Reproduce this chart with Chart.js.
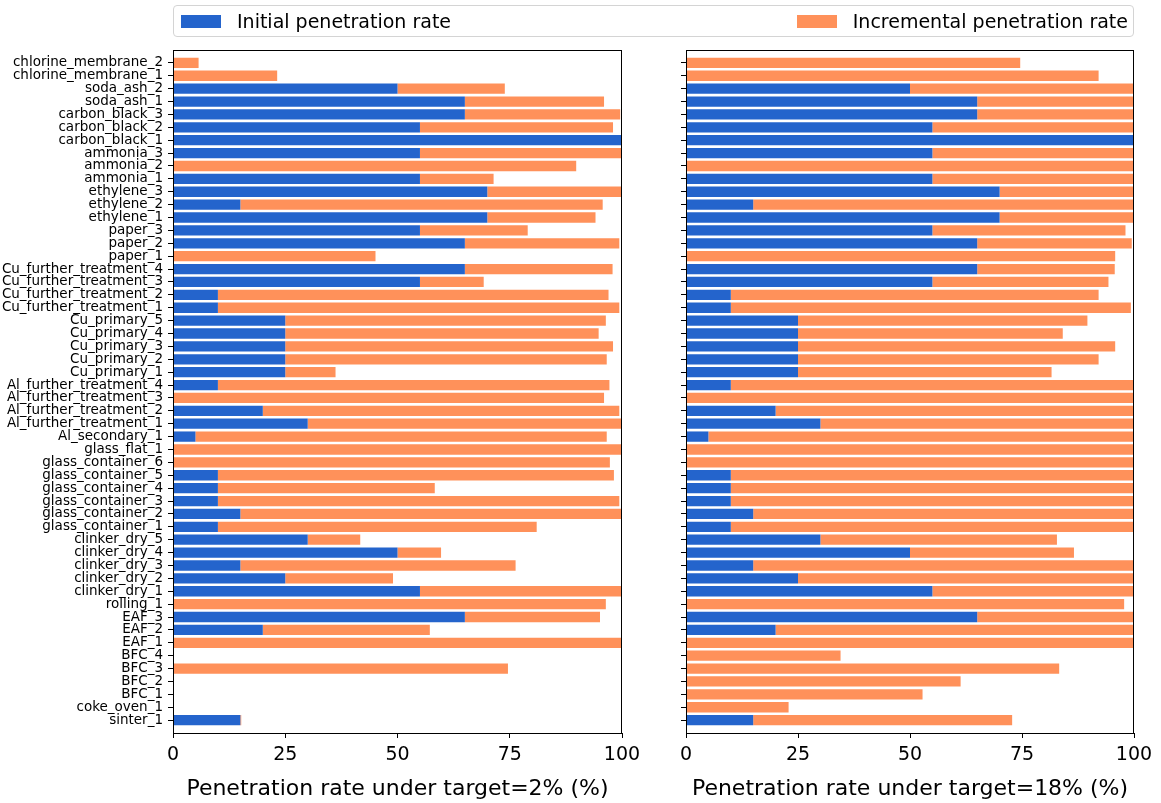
<!DOCTYPE html>
<html>
<head>
<meta charset="utf-8">
<script src="https://cdn.jsdelivr.net/npm/chart.js@4.4.1/dist/chart.umd.min.js"></script>
<style>
  html, body { margin: 0; padding: 0; background: #fff; }
  body { width: 1161px; height: 803px; position: relative; overflow: hidden; font-family: "DejaVu Sans", sans-serif; }
  .panel { position: absolute; top: 0; height: 803px; }
  #leftWrap { left: 0; width: 650px; }
  #rightWrap { left: 650px; width: 511px; }
  #legend {
    position: absolute; left: 173px; top: 5px; width: 961px; height: 32px;
    box-sizing: border-box; border: 1px solid #d4d4d4; border-radius: 4px;
    display: flex; justify-content: space-between; align-items: center;
    font-size: 19px; color: #000; background: rgba(255,255,255,0.8); z-index: 2;
  }
  .item { display: flex; align-items: center; }
  .item.first { margin-left: 7px; }
  .item.last { margin-right: 5px; }
  .swatch { width: 40px; height: 13px; margin-right: 16px; }
</style>
</head>
<body>
<div id="legend">
  <div class="item first"><span class="swatch" style="background:#2464cc"></span><span>Initial penetration rate</span></div>
  <div class="item last"><span class="swatch" style="background:#ff915a"></span><span>Incremental penetration rate</span></div>
</div>
<div class="panel" id="leftWrap"><canvas id="leftChart"></canvas></div>
<div class="panel" id="rightWrap"><canvas id="rightChart"></canvas></div>
<script>
const categories = [
  "chlorine_membrane_2", "chlorine_membrane_1", "soda_ash_2", "soda_ash_1",
  "carbon_black_3", "carbon_black_2", "carbon_black_1",
  "ammonia_3", "ammonia_2", "ammonia_1",
  "ethylene_3", "ethylene_2", "ethylene_1",
  "paper_3", "paper_2", "paper_1",
  "Cu_further_treatment_4", "Cu_further_treatment_3", "Cu_further_treatment_2", "Cu_further_treatment_1",
  "Cu_primary_5", "Cu_primary_4", "Cu_primary_3", "Cu_primary_2", "Cu_primary_1",
  "Al_further_treatment_4", "Al_further_treatment_3", "Al_further_treatment_2", "Al_further_treatment_1",
  "Al_secondary_1", "glass_flat_1",
  "glass_container_6", "glass_container_5", "glass_container_4", "glass_container_3", "glass_container_2", "glass_container_1",
  "clinker_dry_5", "clinker_dry_4", "clinker_dry_3", "clinker_dry_2", "clinker_dry_1",
  "rolling_1", "EAF_3", "EAF_2", "EAF_1",
  "BFC_4", "BFC_3", "BFC_2", "BFC_1", "coke_oven_1", "sinter_1"
];

const initialRate = [
  0, 0, 50, 65, 65, 55, 100, 55, 0, 55, 70, 15, 70, 55, 65, 0,
  65, 55, 10, 10, 25, 25, 25, 25, 25, 10, 0, 20, 30, 5, 0,
  0, 10, 10, 10, 15, 10, 30, 50, 15, 25, 55, 0, 65, 20, 0,
  0, 0, 0, 0, 0, 15
];

const incrementalTarget2 = [
  5.7, 23.2, 23.9, 31, 34.6, 43, 0, 45, 89.8, 16.4, 30, 80.7, 24.1, 24, 34.4, 45.1,
  32.9, 14.2, 87, 89.4, 71.4, 69.8, 73, 71.6, 11.2, 87.2, 96, 79.4, 70, 91.6, 100,
  97.3, 88.2, 48.3, 89.4, 85, 71, 11.7, 9.7, 61.3, 24, 45, 96.4, 30.1, 37.2, 100,
  0, 74.6, 0, 0, 0, 0.2
];

const incrementalTarget18 = [
  74.6, 92.1, 50, 35, 35, 45, 0, 45, 100, 45, 30, 85, 30, 43.1, 34.5, 95.8,
  30.7, 39.3, 82.1, 89.3, 64.6, 59.1, 70.8, 67.1, 56.6, 90, 100, 80, 70, 95, 100,
  100, 90, 90, 90, 85, 90, 52.8, 36.6, 85, 75, 45, 97.8, 35, 80, 100,
  34.5, 83.3, 61.3, 52.8, 22.9, 57.8
];

const xTicks = [0, 25, 50, 75, 100];

const blue = "#2464cc";
const orange = "#ff915a";

Chart.defaults.font.family = "'DejaVu Sans', sans-serif";
Chart.defaults.color = "#000";
Chart.defaults.animation = false;

// matplotlib-style box round the plot area
const framePlugin = {
  id: "frame",
  afterDraw(chart) {
    const { ctx, chartArea: a } = chart;
    ctx.save();
    ctx.strokeStyle = "#000";
    ctx.lineWidth = 1;
    ctx.strokeRect(Math.round(a.left) + 0.5, Math.round(a.top) + 0.5, Math.round(a.width) - 1, Math.round(a.height));
    ctx.restore();
  }
};

function makePanel(canvasId, incremental, title, axisWidth, rightPad, showLabels) {
  return new Chart(document.getElementById(canvasId), {
    type: "bar",
    data: {
      datasets: [
        {
          label: "Initial penetration rate",
          data: initialRate.map((v, i) => ({ x: v, y: i })),
          backgroundColor: blue,
          borderWidth: 0,
          barPercentage: 0.8,
          categoryPercentage: 1
        },
        {
          label: "Incremental penetration rate",
          data: incremental.map((v, i) => ({ x: v, y: i })),
          backgroundColor: orange,
          borderWidth: 0,
          barPercentage: 0.8,
          categoryPercentage: 1
        }
      ]
    },
    options: {
      indexAxis: "y",
      responsive: true,
      maintainAspectRatio: false,
      layout: { padding: { top: 50, right: rightPad, bottom: 0, left: 0 } },
      plugins: { legend: { display: false }, tooltip: { enabled: false } },
      scales: {
        x: {
          type: "linear",
          min: 0,
          max: 100,
          stacked: true,
          afterBuildTicks: s => { s.ticks = xTicks.map(v => ({ value: v })); },
          afterFit: s => { s.height = 70; },
          ticks: { font: { size: 19 }, color: "#000", padding: 6, maxRotation: 0 },
          grid: { drawOnChartArea: false, tickLength: 5, tickColor: "#000" },
          border: { color: "#000", width: 1 },
          title: { display: true, text: title, font: { size: 22 }, color: "#000", padding: { top: 4, bottom: 1 } }
        },
        y: {
          type: "linear",
          reverse: true,
          offset: false,
          min: -1,
          max: categories.length,
          stacked: true,
          afterBuildTicks: s => { s.ticks = categories.map((_, i) => ({ value: i })); },
          afterFit: s => { s.width = axisWidth; },
          ticks: {
            autoSkip: false,
            font: { size: 13.5 },
            color: "#000",
            padding: 5,
            callback: v => (showLabels ? categories[v] : "")
          },
          grid: { drawOnChartArea: false, offset: false, tickLength: 5, tickColor: "#000" },
          border: { color: "#000", width: 1 }
        }
      }
    },
    plugins: [framePlugin]
  });
}

makePanel("leftChart", incrementalTarget2, "Penetration rate under target=2% (%)", 173, 28, true);
makePanel("rightChart", incrementalTarget18, "Penetration rate under target=18% (%)", 36, 27, false);
</script>
</body>
</html>
